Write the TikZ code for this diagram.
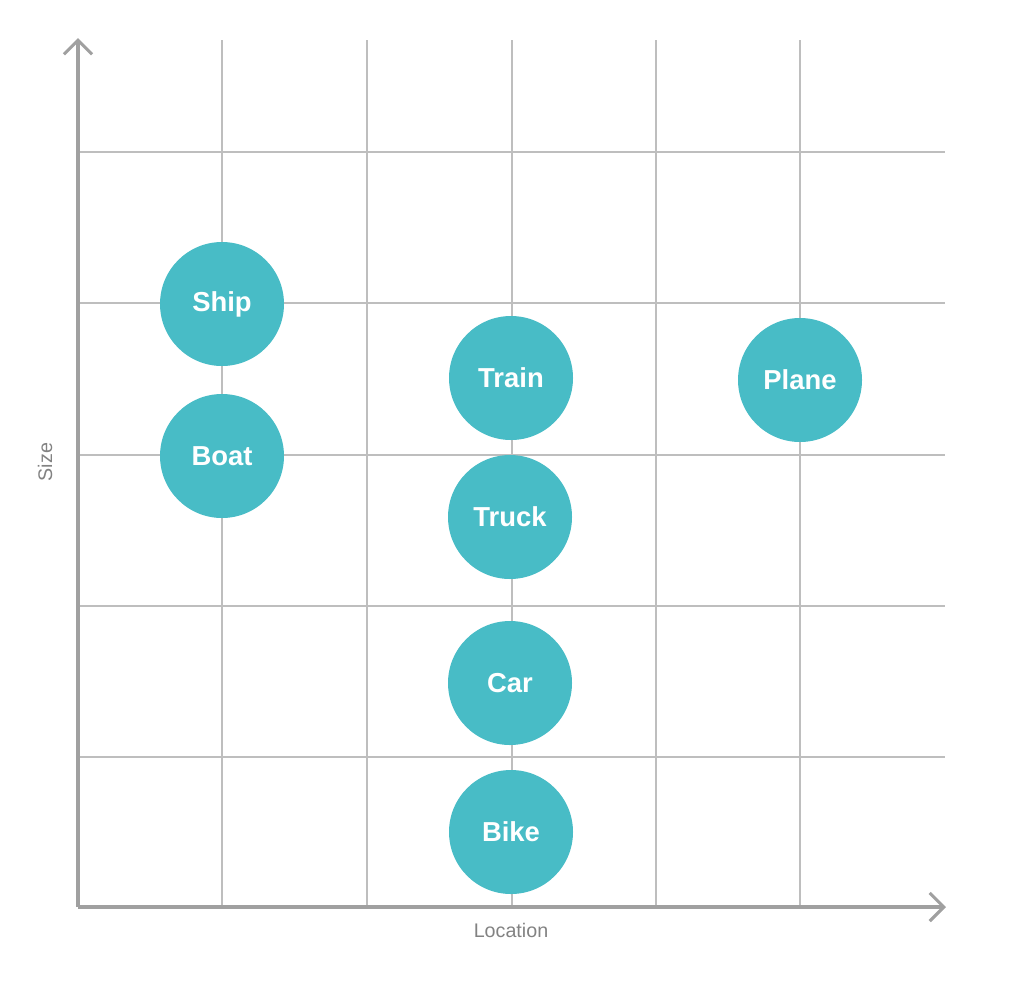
\documentclass[tikz,border=0pt]{standalone}
\usepackage{fontspec}
\setmainfont{Liberation Sans}
\usepackage{tikz}
\usetikzlibrary{arrows.meta}
\definecolor{myteal}{RGB}{72,188,198}
\definecolor{mygrid}{RGB}{190,190,190}
\definecolor{myaxis}{RGB}{160,160,160}
\definecolor{mylabel}{RGB}{130,130,130}
\newlength{\pxu}
\setlength{\pxu}{0.025cm}
\tikzset{
  grid line/.style={draw=mygrid, line width=1.8pt},
  axis/.style={draw=myaxis, line width=2.2pt,
    -{Straight Barb[length=10pt, width=20pt, line width=2.2pt]}},
  bubble/.style={circle, fill=myteal, minimum size=124\pxu, inner sep=0pt,
    text=white, font=\fontsize{19.5}{21}\selectfont\bfseries},
  axislabel/.style={text=mylabel, font=\fontsize{14}{16}\selectfont}
}

\begin{document}
\begin{tikzpicture}[x=0.025cm, y=-0.025cm]
  \useasboundingbox (0,0) rectangle (1024,1001);

  % grid
  \foreach \gx in {222,367,512,656,800}
    \draw[grid line] (\gx,40) -- (\gx,907);
  \foreach \gy in {152,303,455,606,757}
    \draw[grid line] (78,\gy) -- (945,\gy);

  % axes
  \coordinate (origin) at (78,907);
  \coordinate (ytop) at (78,38);
  \coordinate (xend) at (946,907);
  \draw[axis] (origin) -- (ytop);
  \draw[axis] (origin) -- (xend);
  \node[axislabel, rotate=90] (sizelab) at (45,462) {Size};
  \node[axislabel] (loclab) at (511,930) {Location};

  % vehicles
  \node[bubble] (ship)  at (222,304) {Ship};
  \node[bubble] (boat)  at (222,456) {Boat};
  \node[bubble] (train) at (511,378) {Train};
  \node[bubble] (plane) at (800,380) {Plane};
  \node[bubble] (truck) at (510,517) {Truck};
  \node[bubble] (car)   at (510,683) {Car};
  \node[bubble] (bike)  at (511,832) {Bike};
\end{tikzpicture}
\end{document}
